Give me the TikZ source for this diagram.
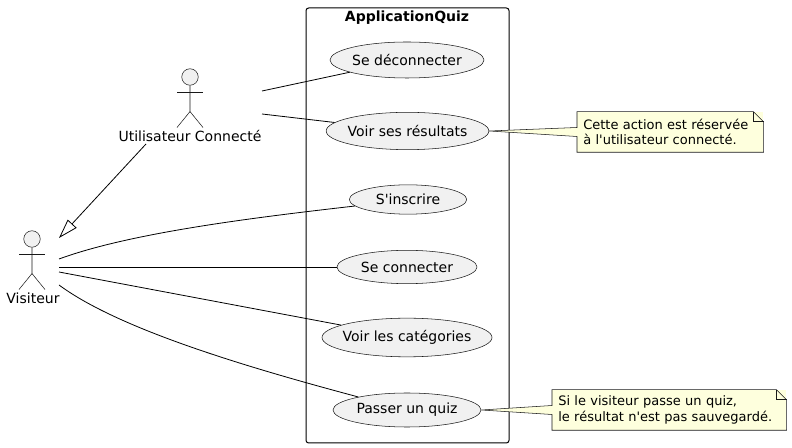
\documentclass[tikz,border=0pt]{standalone}
\usepackage{fontspec}
\newfontfamily\umlfont{DejaVu Sans}
\usetikzlibrary{shapes.geometric,arrows.meta,calc,backgrounds}
\definecolor{casefill}{HTML}{F1F1F1}
\definecolor{notefill}{HTML}{FEFFDD}
\definecolor{umlline}{HTML}{181818}
\tikzset{
  usecase/.style={ellipse,draw=umlline,line width=0.4pt,fill=casefill,inner xsep=-20pt,inner ysep=-6pt,font=\umlfont\fontsize{10.5}{12}\selectfont},
  actorlabel/.style={inner sep=0pt,font=\umlfont\fontsize{10.5}{12}\selectfont},
  notebox/.style={inner xsep=4.5pt,inner ysep=0pt,align=left,minimum height=30pt,font=\umlfont\fontsize{9.75}{11.4}\selectfont},
  assoc/.style={black,line width=0.6pt},
  extends/.style={assoc,-{Triangle[open,length=14.6pt,width=9pt]}}
}
% stick figure, head centre at (#2,#3)
\newcommand{\stickman}[3]{
  \node[circle,draw=umlline,line width=0.4pt,fill=casefill,minimum size=12.4pt,inner sep=0pt] (#1) at (#2,#3) {};
  \draw[umlline,line width=0.4pt] (#1.south) -- ++(0,26) -- ++(-13,16);
  \draw[umlline,line width=0.4pt] (#1.south) ++(0,26) -- ++(13,16);
  \draw[umlline,line width=0.4pt] (#1.south) ++(-13,7) -- ++(26,0);
}
% note outline with its wedge towards node #2
\newcommand{\noteshape}[2]{
  \begin{scope}[on background layer]
  \fill[notefill] ($(#1.west)+(1,-4.5)$) -- (#2.east) -- ($(#1.west)+(1,4.5)$) -- cycle;
  \end{scope}
  \draw[umlline,line width=0.4pt] ($(#1.west)+(0,4.5)$) -- (#2.east) -- ($(#1.west)+(0,-4.5)$)
    -- (#1.north west) -- ($(#1.north east)+(-10,0)$) -- ($(#1.north east)+(0,10)$)
    -- (#1.south east) -- (#1.south west) -- ($(#1.west)+(0,4.5)$);
  \draw[umlline,line width=0.4pt] ($(#1.north east)+(-10,0)$) -- ++(0,10) -- ++(10,0);
}
\begin{document}
\begin{tikzpicture}[x=0.75pt,y=-0.75pt]
\useasboundingbox (0,0) rectangle (792,448);

% package
\begin{scope}[on background layer]
\draw[black,line width=0.75pt,rounded corners=2pt] (306,8) rectangle (509,443);
\end{scope}
\node[inner sep=0pt,font=\umlfont\bfseries\fontsize{10.5}{12}\selectfont] (title) at (407,18) {ApplicationQuiz};

% use cases
\node[usecase,minimum width=115.5pt,minimum height=27pt] (deconnecter) at (407,60) {Se déconnecter};
\node[usecase,minimum width=122pt,minimum height=28pt] (resultats) at (407.5,131) {Voir ses résultats};
\node[usecase,minimum width=88pt,minimum height=22pt] (inscrire) at (408,199.5) {S'inscrire};
\node[usecase,minimum width=105pt,minimum height=25pt] (connecter) at (407,267) {Se connecter};
\node[usecase,minimum width=127.5pt,minimum height=29pt] (categories) at (407,337.5) {Voir les catégories};
\node[usecase,minimum width=111pt,minimum height=25.5pt] (quiz) at (407,410) {Passer un quiz};

% actors
\stickman{connecte}{190}{77}
\node[actorlabel] (connectelabel) at (190,136) {Utilisateur Connecté};
\stickman{visiteur}{32}{239}
\node[actorlabel] (visiteurlabel) at (33,298) {Visiteur};

\coordinate (c1) at (262,91);
\coordinate (c2) at (262,114);
\coordinate (c3) at (146,144);
\coordinate (v0) at (59,238);
\coordinate (v1) at (59,259);
\coordinate (v2) at (59,267);
\coordinate (v3) at (59,272);
\coordinate (v4) at (59,285);

% links
\draw[assoc] (c1) -- (deconnecter);
\draw[assoc] (c2) -- (resultats);
\draw[extends] (c3) -- (v0);
\draw[assoc] (v1) .. controls (130,233) and (250,218) .. (inscrire.187);
\draw[assoc] (v2) -- (connecter.west);
\draw[assoc] (v3) -- (categories);
\draw[assoc] (v4) .. controls (120,330) and (250,368) .. (quiz);

% notes
\node[notebox,anchor=west,fill=notefill,minimum width=139.5pt,text width=130.5pt] (note1) at (577,132) {Cette action est réservée\\à l'utilisateur connecté.};
\noteshape{note1}{resultats}
\node[notebox,anchor=west,fill=notefill,minimum width=175.5pt,text width=166.5pt] (note2) at (552,410) {Si le visiteur passe un quiz,\\le résultat n'est pas sauvegardé.};
\noteshape{note2}{quiz}
\end{tikzpicture}
\end{document}
